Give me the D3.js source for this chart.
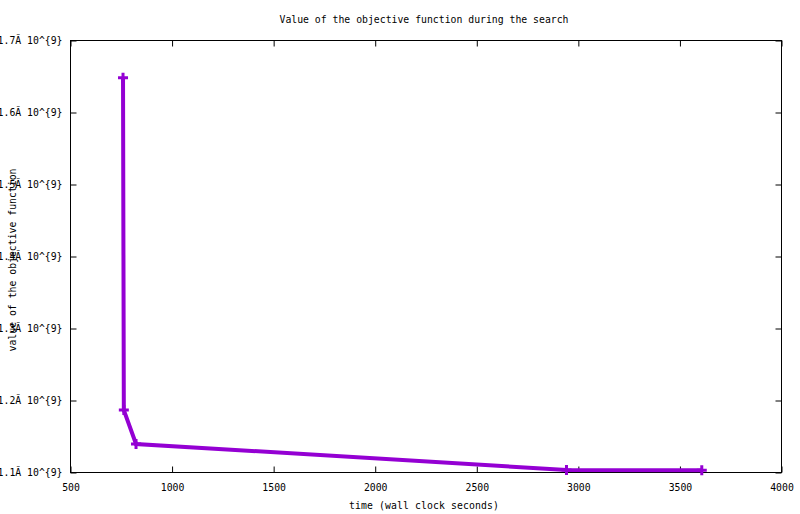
<!DOCTYPE html>
<html>
<head>
<meta charset="utf-8">
<script src="https://cdn.jsdelivr.net/npm/d3@7"></script>
<style>
  body { margin: 0; background: #fff; }
  text { font-family: "DejaVu Sans Mono", monospace; font-size: 9.8px; fill: #000; }
</style>
</head>
<body>
<div id="chart"></div>
<script>
// search progress: wall clock seconds vs objective value
const times = [761, 765, 825, 2944, 3610];
const objective = [1.6476e9, 1.186e9, 1.1389e9, 1.1028e9, 1.1026e9];
const xTicks = [500, 1000, 1500, 2000, 2500, 3000, 3500, 4000];
const yTicks = [1.1e9, 1.2e9, 1.3e9, 1.4e9, 1.5e9, 1.6e9, 1.7e9];

const width = 800, height = 514;
const plotLeft = 70, plotRight = 781, plotTop = 40, plotBottom = 472;

const svg = d3.select("#chart").append("svg")
    .attr("width", width)
    .attr("height", height);

const x = d3.scaleLinear().domain([500, 4000]).range([plotLeft, plotRight]);
const y = d3.scaleLinear().domain([1.1e9, 1.7e9]).range([plotBottom, plotTop]);

// frame
svg.append("rect")
    .attr("x", plotLeft + 0.5).attr("y", plotTop + 0.5)
    .attr("width", plotRight - plotLeft).attr("height", plotBottom - plotTop)
    .attr("fill", "none").attr("stroke", "#000").attr("stroke-width", 1);

// gnuplot style inward ticks, mirrored
const tickLen = 6;
const xAxis = d3.axisBottom(x).tickValues(xTicks).tickSizeInner(-tickLen).tickSizeOuter(0).tickPadding(12).tickFormat(d3.format("d"));
const xAxisTop = d3.axisTop(x).tickValues(xTicks).tickSizeInner(-tickLen).tickSizeOuter(0).tickFormat("");
const yFmt = d => d3.format(".1f")(d / 1e9) + "Ă 10^{9}";
const yAxis = d3.axisLeft(y).tickValues(yTicks).tickSizeInner(-tickLen).tickSizeOuter(0).tickPadding(8).tickFormat(yFmt);
const yAxisRight = d3.axisRight(y).tickValues(yTicks).tickSizeInner(-tickLen).tickSizeOuter(0).tickFormat("");

function styleAxis(g) {
    g.select(".domain").remove();
    g.selectAll("line").attr("stroke", "#000");
    g.selectAll("text").attr("font-family", "DejaVu Sans Mono, monospace").attr("font-size", "9.8px").attr("fill", "#000");
}

svg.append("g").attr("transform", `translate(0.5,${plotBottom + 0.5})`).call(xAxis).call(styleAxis);
svg.append("g").attr("transform", `translate(0.5,${plotTop + 0.5})`).call(xAxisTop).call(styleAxis);
svg.append("g").attr("transform", `translate(${plotLeft + 0.5},0.5)`).call(yAxis).call(styleAxis);
svg.append("g").attr("transform", `translate(${plotRight + 0.5},0.5)`).call(yAxisRight).call(styleAxis);

// titles
svg.append("text")
    .attr("x", 424).attr("y", 23)
    .attr("text-anchor", "middle")
    .text("Value of the objective function during the search");

svg.append("text")
    .attr("x", 424).attr("y", 509)
    .attr("text-anchor", "middle")
    .attr("textLength", 150)
    .text("time (wall clock seconds)");

svg.append("text")
    .attr("transform", "translate(16,260) rotate(-90)")
    .attr("text-anchor", "middle")
    .text("value of the objective function");

// series
const pts = times.map((t, i) => [t, objective[i]]);
const color = "#9400d3";

svg.append("path")
    .datum(pts)
    .attr("d", d3.line().x(d => x(d[0])).y(d => y(d[1])))
    .attr("fill", "none")
    .attr("stroke", color)
    .attr("stroke-width", 4)
    .attr("stroke-linejoin", "miter");

// thick plus marker
const plus = {
    draw(ctx) {
        ctx.moveTo(-5, -1.5); ctx.lineTo(-1.5, -1.5); ctx.lineTo(-1.5, -5);
        ctx.lineTo(1.5, -5); ctx.lineTo(1.5, -1.5); ctx.lineTo(5, -1.5);
        ctx.lineTo(5, 1.5); ctx.lineTo(1.5, 1.5); ctx.lineTo(1.5, 5);
        ctx.lineTo(-1.5, 5); ctx.lineTo(-1.5, 1.5); ctx.lineTo(-5, 1.5);
        ctx.closePath();
    }
};

svg.append("g")
    .selectAll("path")
    .data(pts)
    .enter()
    .append("path")
    .attr("transform", d => `translate(${x(d[0])},${y(d[1])})`)
    .attr("d", d3.symbol().type(plus))
    .attr("fill", color);
</script>
</body>
</html>
